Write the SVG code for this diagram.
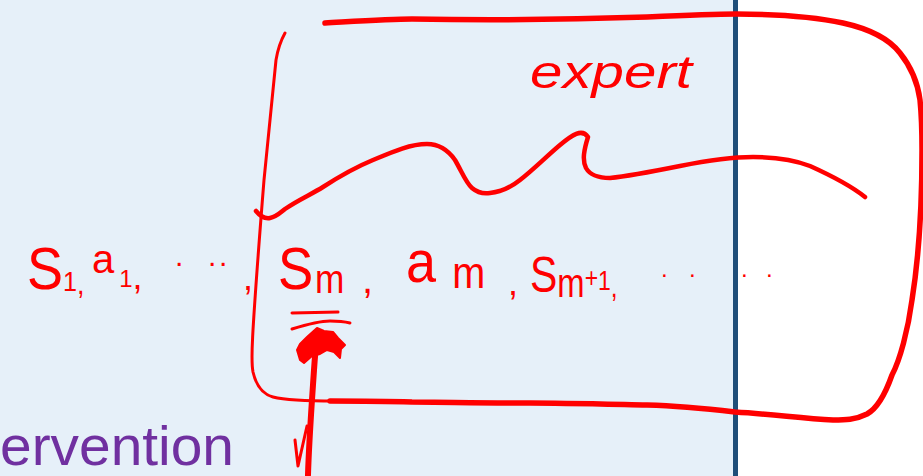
<svg xmlns="http://www.w3.org/2000/svg" width="923" height="476" viewBox="0 0 923 476">
<style>
.ink{fill:none;stroke:#FF0000;stroke-linecap:round;stroke-linejoin:round}
.hw{fill:#FF0000;font-family:"Liberation Sans","DejaVu Sans",sans-serif}
.slide{fill:#7030A0;font-family:"Liberation Sans",Arial,sans-serif}
</style>
<g id="slide">
<rect x="0" y="0" width="923" height="476" fill="#FFFFFF"/>
<rect x="0" y="0" width="735" height="476" fill="#E6F0F9"/>
<rect x="733" y="0" width="5" height="476" fill="#1F4E79"/>
<text class="slide" x="0" y="465" font-size="56" textLength="234" lengthAdjust="spacingAndGlyphs">ervention</text>
</g>
<g id="box">
<path class="ink" stroke-width="5.5" d="M325 23 C360 21 390 19 412 19 C470 20 560 20 647 17 C690 15 715 14 736 14 C790 14 820 18 843 23 C870 29 890 40 900 53 C912 68 918 85 920 100 C922 120 922 140 922 150 C922 200 920 250 912 300 C908 330 900 360 892 375 C886 392 878 408 867 414 C855 420 845 420 833 420 C800 418 770 414 735 412 C700 408 680 406 647 405 C600 404 560 403 530 403 C480 403 440 402 412 402 C380 401 350 401 330 401"/>
<path class="ink" stroke-width="3" d="M285 33 C280 42 278 48 276 60 C272 100 268 140 264 180 C260 230 256 280 253 330 C252 350 251 362 253 372 C256 385 262 394 273 397 C285 400 305 401 335 401"/>
</g>
<g id="wave">
<path class="ink" stroke-width="4.5" d="M256 211 C260 216 264 219 270 218 C276 217 280 213 285 209 C298 200 312 194 323 187 C340 176 356 167 373 160 C392 152 410 144 427 144 C440 144 448 150 455 160 C462 172 466 183 472 188 C478 193 484 194 490 193 C500 192 510 188 520 180 C533 170 548 155 560 145 C572 135 582 128 588 137 C584 150 582 160 586 168 C590 175 598 178 610 178 C630 176 660 170 680 166 C700 162 730 157 753 157 C775 157 795 160 810 166 C830 175 850 185 865 197"/>
</g>
<g id="expert-label">
<text class="hw" x="530" y="88" font-size="46" font-style="italic" textLength="162" lengthAdjust="spacingAndGlyphs">expert</text>
</g>
<g id="sequence">
<text class="hw" transform="translate(27 289) scale(0.9 1)" x="0" y="0"><tspan font-size="60">S</tspan><tspan font-size="28" dy="2">1</tspan><tspan font-size="30" dy="3">,</tspan></text>
<text class="hw" x="92" y="273"><tspan font-size="40">a</tspan><tspan font-size="24" dx="5" dy="14">1</tspan><tspan font-size="36" dy="2">,</tspan></text>
<text class="hw"><tspan x="175 208 219" y="266" font-size="30">...</tspan><tspan x="243" y="290" font-size="36">,</tspan></text>
<text class="hw" transform="translate(278 289) scale(0.88 1)" x="0" y="0"><tspan font-size="60">S</tspan><tspan font-size="40" dx="2" dy="4">m</tspan></text>
<text class="hw" x="362" y="293" font-size="40">,</text>
<text class="hw" transform="translate(406 282) scale(0.9 1)" x="0" y="0"><tspan font-size="60">a</tspan><tspan font-size="44" dx="18" dy="6">m</tspan></text>
<text class="hw" x="508" y="295" font-size="36">,</text>
<text class="hw" transform="translate(530 292) scale(0.82 1)" x="0" y="0"><tspan font-size="50">S</tspan><tspan font-size="40" dy="5">m</tspan><tspan font-size="28" dy="-10">+</tspan><tspan font-size="28" dy="3">1</tspan><tspan font-size="30" dy="7">,</tspan></text>
<text class="hw" x="661 689 741 766" y="277" font-size="24">....</text>
</g>
<g id="pointer">
<path class="ink" stroke-width="3" d="M292 313 L338 312"/>
<path class="ink" stroke-width="3" d="M292 329 C305 325 318 321 330 321 C340 321 346 322 350 323"/>
<path class="ink" stroke-width="6" d="M308 475 C309 440 312 400 314 370 C315 355 316 345 317 338"/>
<path class="ink" stroke-width="3" d="M295 440 L298 466 L307 426"/>
<path fill="#FF0000" stroke="#FF0000" stroke-width="2" stroke-linejoin="round" d="M317 328 L324 331 L333 332 L338 338 L345 345 L341 349 L340 358 L334 352 L327 350 L320 354 L312 356 L304 363 L300 360 L297 350 L300 344 L307 337 Z"/>
</g>
</svg>
